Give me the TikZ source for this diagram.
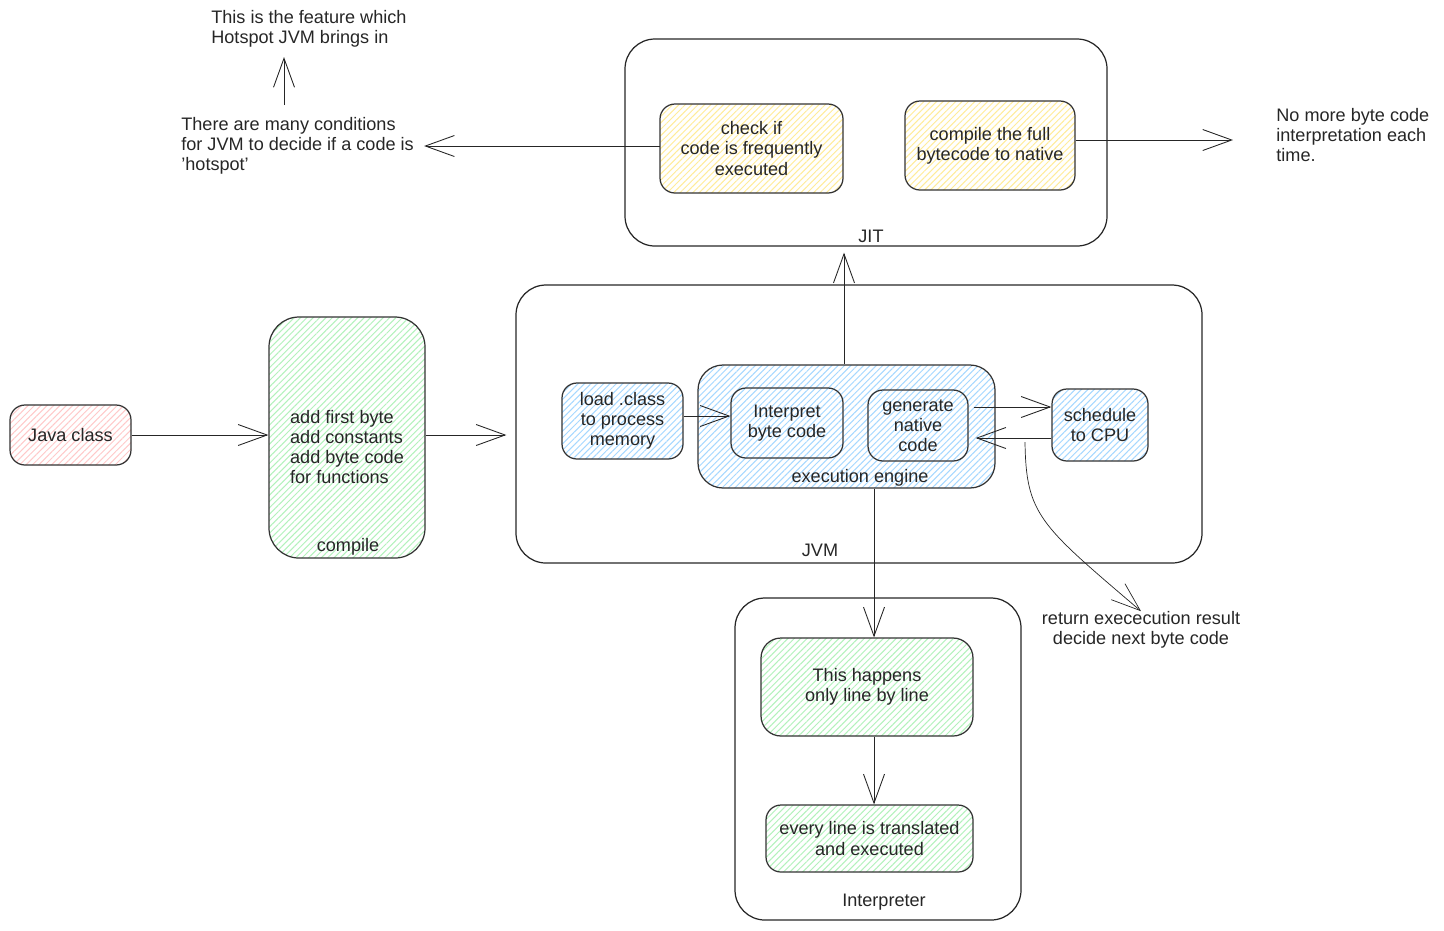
\documentclass[tikz,border=0pt]{standalone}
\usepackage{fontspec}
\setmainfont{Liberation Sans}
\usetikzlibrary{arrows.meta, positioning, patterns.meta}

\definecolor{pinkH}{HTML}{FFC9C9}
\definecolor{greenH}{HTML}{B2F2BB}
\definecolor{blueH}{HTML}{A5D8FF}
\definecolor{yellowH}{HTML}{FFEC99}

\begin{document}
\begin{tikzpicture}[
        x=0.2mm, y=-0.2mm,
        >={Straight Barb[length=5.8mm, width=4.2mm]},
        every node/.style={font=\fontsize{10.3}{11.4}\selectfont, text=black!85},
        box/.style={draw=black!80, line width=0.7pt, rounded corners=3mm, align=center, inner sep=2pt},
        cont/.style={draw=black!85, line width=0.7pt, rounded corners=6mm},
        hatch/.style={preaction={fill=white}, pattern={Lines[angle=45, distance=0.9mm, line width=0.2mm]}, pattern color=#1},
        arr/.style={->, line width=0.5pt, draw=black!85},
        lbl/.style={inner sep=1pt},
        note/.style={align=left, anchor=west, inner sep=0pt}
    ]
        \useasboundingbox (0,0) rectangle (1444,930);

        % JIT
        \node[cont, minimum width=96.4mm, minimum height=41.4mm] (jit) at (866,142.5) {};
        \node[lbl] (jitlbl) at (871,236) {JIT};
        \node[box, hatch=yellowH, minimum width=36.6mm, minimum height=17.8mm] (check) at (751.5,148.5)
            {check if\\code is frequently\\executed};
        \node[box, hatch=yellowH, minimum width=34mm, minimum height=17.8mm] (full) at (990,145.5)
            {compile the full\\bytecode to native};

        % JVM
        \node[cont, minimum width=137.2mm, minimum height=55.6mm] (jvm) at (859,424) {};
        \node[lbl] (jvmlbl) at (820,550) {JVM};
        \node[box, hatch=blueH, minimum width=24.2mm, minimum height=15.2mm] (load) at (622.5,421)
            {load .class\\to process\\memory};
        \node[box, hatch=blueH, rounded corners=5mm, minimum width=59.4mm, minimum height=24.6mm] (engine) at (846.5,426.5) {};
        \node[lbl] (englbl) at (860,478) {execution engine};
        \node[box, hatch=blueH, minimum width=22.4mm, minimum height=14mm] (interp) at (787,423) {Interpret\\byte code};
        \node[box, hatch=blueH, minimum width=20mm, minimum height=14.2mm] (gen) at (918,425.5) {generate\\native\\code};
        \node[box, hatch=blueH, minimum width=19.2mm, minimum height=14.4mm] (sched) at (1100,425) {schedule\\to CPU};

        % Interpreter
        \node[cont, minimum width=57.2mm, minimum height=64.4mm] (intp) at (878,759) {};
        \node[lbl] (intplbl) at (884,902) {Interpreter};
        \node[box, hatch=greenH, rounded corners=4mm, minimum width=42.4mm, minimum height=19.6mm] (happens) at (867,687)
            {This happens\\only line by line};
        \node[box, hatch=greenH, minimum width=41.4mm, minimum height=13.4mm] (every) at (869.5,838.5)
            {every line is translated\\and executed};

        % 左侧
        \node[box, hatch=pinkH, minimum width=24.2mm, minimum height=12mm] (java) at (70.5,435) {Java class};
        \node[box, hatch=greenH, rounded corners=6mm, minimum width=31.2mm, minimum height=48.2mm] (comp) at (347,437.5) {};
        \node[align=left, inner sep=0pt] (comptxt) at (347,447)
            {add first byte\\add constants\\add byte code\\for functions};
        \node[lbl] (complbl) at (348,547) {compile};

        % 注释文字
        \node[note] (feature) at (211,29) {This is the feature which\\Hotspot JVM brings in};
        \node[note] (hotspot) at (181,146) {There are many conditions\\for JVM to decide if a code is\\'hotspot'};
        \node[note] (nomore) at (1276,135) {No more byte code\\interpretation each\\time.};
        \node[align=center, inner sep=0pt] (retlbl) at (1141,630) {return exececution result\\decide next byte code};

        \coordinate (up0) at (284,105);
        \coordinate (up1) at (284,57);
        \coordinate (out) at (1233,140);
        \coordinate (ret0) at (1025,442);

        % 连线
        \draw[arr] (java.east) -- (java.east -| comp.west);
        \draw[arr, shorten >=1.8mm] (comp.east |- java.east) -- (java.east -| jvm.west);
        \draw[arr] (load.east |- 0,416) -- (interp.west |- 0,416);
        \draw[arr] ([xshift=1mm, yshift=3.7mm]gen.east) -- ([yshift=3.7mm]gen.east -| sched.west);
        \draw[arr, shorten >=1.4mm] ([yshift=-2.6mm]sched.west) -- ([yshift=-2.6mm]sched.west -| gen.east);
        \draw[arr, shorten >=1.2mm] ([xshift=-0.5mm]engine.north) -- ([xshift=-0.5mm]engine.north |- jit.south);
        \draw[arr] ([xshift=5.5mm]engine.south) -- ([xshift=5.5mm]engine.south |- happens.north);
        \draw[arr] ([xshift=1.4mm]happens.south) -- ([xshift=1.4mm]happens.south |- every.north);
        \draw[arr] (full.east |- out) -- (out);
        \draw[arr, shorten >=2mm] (check.west |- hotspot.east) -- (hotspot.east);
        \draw[arr] (up0) -- (up1);
        \draw[arr, line width=0.4pt] (ret0) .. controls (1026,515) and (1040,525) .. (retlbl.north);
    \end{tikzpicture}
\end{document}
